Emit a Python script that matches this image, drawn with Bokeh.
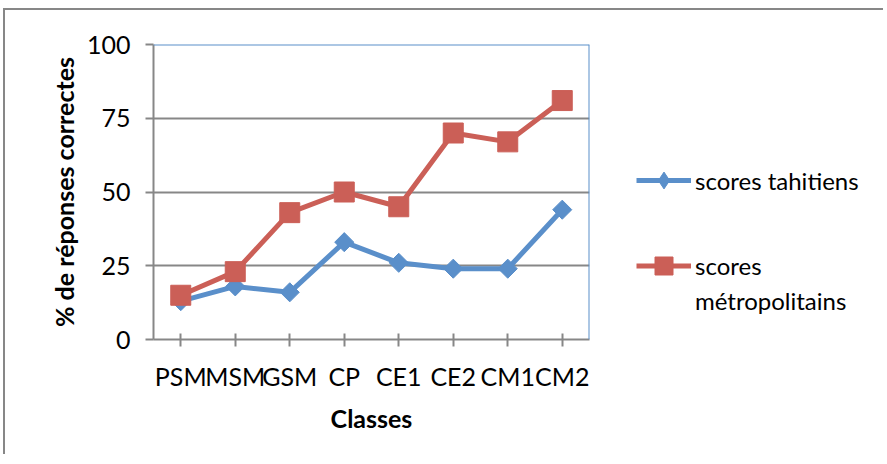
import numpy as np
from bokeh.plotting import figure
from bokeh.layouts import row
from bokeh.models import FactorRange, Range1d, FixedTicker, Legend, LegendItem, Span
from bokeh.embed import file_html
from bokeh.resources import INLINE

classes = ["PSM", "MSM", "GSM", "CP", "CE1", "CE2", "CM1", "CM2"]
scores_tahitiens = [13, 18, 16, 33, 26, 24, 24, 44]
scores_metropolitains = [15, 23, 43, 50, 45, 70, 67, 81]
y_ticks = [0, 25, 50, 75, 100]
legend_labels = ["scores tahitiens", "scores", "métropolitains"]

FONT = "Lato"
FS = "25px"
LFS = "24px"
BLUE = "#5A8FCA"
RED = "#CB5F57"
GRAY = "#878787"

H = 444
WP = 600
W2 = 278
FL, FT, FW, FH = 148, 34, 436, 295

p = figure(width=WP, height=H,
           x_range=FactorRange(factors=classes, range_padding=0),
           y_range=Range1d(0, 100),
           output_backend="svg", toolbar_location=None,
           min_border_left=FL, min_border_right=WP - FL - FW,
           min_border_top=FT, min_border_bottom=H - FT - FH)
p.outline_line_color = None
p.background_fill_color = "white"
p.border_fill_color = "white"

# axes
p.xaxis.axis_line_color = GRAY
p.xaxis.axis_line_width = 2
p.xaxis.major_tick_line_color = GRAY
p.xaxis.major_tick_line_width = 2
p.xaxis.major_tick_in = 6
p.xaxis.major_tick_out = 7
p.xaxis.major_label_text_font = FONT
p.xaxis.major_label_text_font_size = FS
p.xaxis.major_label_text_color = "black"
p.xaxis.major_label_standoff = 14
p.xaxis.axis_label = "Classes"
p.xaxis.axis_label_text_font = FONT
p.xaxis.axis_label_text_font_size = FS
p.xaxis.axis_label_text_font_style = "bold"
p.xaxis.axis_label_text_color = "black"
p.xaxis.axis_label_standoff = 9

p.yaxis.ticker = FixedTicker(ticks=y_ticks)
p.yaxis.axis_line_color = GRAY
p.yaxis.axis_line_width = 2
p.yaxis.major_tick_line_color = GRAY
p.yaxis.major_tick_line_width = 2
p.yaxis.major_tick_in = 0
p.yaxis.major_tick_out = 8
p.yaxis.minor_tick_line_color = None
p.yaxis.major_label_text_font = FONT
p.yaxis.major_label_text_font_size = FS
p.yaxis.major_label_text_color = "black"
p.yaxis.major_label_standoff = 15
p.yaxis.axis_label = "% de réponses correctes"
p.yaxis.axis_label_text_font = FONT
p.yaxis.axis_label_text_font_size = FS
p.yaxis.axis_label_text_font_style = "bold"
p.yaxis.axis_label_text_color = "black"
p.yaxis.axis_label_standoff = 5

p.xgrid.grid_line_color = None
p.ygrid.ticker = FixedTicker(ticks=y_ticks[1:-1])
p.ygrid.grid_line_color = GRAY
p.ygrid.grid_line_width = 2

p.add_layout(Span(location=y_ticks[-1], dimension="width", line_color=BLUE, line_width=2))
p.add_layout(Span(location=len(classes), dimension="height", line_color=BLUE, line_width=2))

# series
p.line(classes, scores_tahitiens, line_color=BLUE, line_width=5, line_join="round")
p.scatter(classes, scores_tahitiens, marker="square", size=13.5, angle=np.pi / 4,
          fill_color=BLUE, line_color=BLUE)
p.line(classes, scores_metropolitains, line_color=RED, line_width=5, line_join="round")
p.scatter(classes, scores_metropolitains, marker="square", size=20,
          fill_color=RED, line_color=RED)

# legend panel (second figure, series kept out of its view so only the legend shows)
p2 = figure(width=W2, height=H,
            x_range=FactorRange(factors=classes, range_padding=0),
            y_range=Range1d(1000, 1100),
            output_backend="svg", toolbar_location=None,
            x_axis_location=None, y_axis_location=None, min_border=0)
p2.outline_line_color = None
p2.grid.grid_line_color = None
p2.background_fill_color = "white"
p2.border_fill_color = "white"

lb = p2.line(classes, scores_tahitiens, line_color=BLUE, line_width=5)
db = p2.scatter(classes, scores_tahitiens, marker="diamond", size=14, fill_color=BLUE, line_color=BLUE)
lr = p2.line(classes, scores_metropolitains, line_color=RED, line_width=5)
sr = p2.scatter(classes, scores_metropolitains, marker="square", size=20, fill_color=RED, line_color=RED)


def mk_legend(items, loc, gh):
    return Legend(items=items, location=loc, glyph_width=55, glyph_height=gh,
                  padding=0, margin=0, spacing=0, label_standoff=4, label_height=30,
                  border_line_color=None, background_fill_alpha=0,
                  label_text_font=FONT, label_text_font_size=LFS, label_text_color="black")


p2.add_layout(mk_legend([LegendItem(label=legend_labels[0], renderers=[lb, db])], (31, 138), 42))
p2.add_layout(mk_legend([LegendItem(label=legend_labels[1], renderers=[lr, sr])], (31, 51), 45))
p2.add_layout(mk_legend([LegendItem(label=legend_labels[2], renderers=[])], (31, 24), 30))

layout = row(p, p2, styles={"margin-left": "3px", "margin-top": "8px",
                            "border-left": f"2px solid {GRAY}", "border-top": f"2px solid {GRAY}"})

open("out.html", "w").write(file_html(layout, INLINE))
